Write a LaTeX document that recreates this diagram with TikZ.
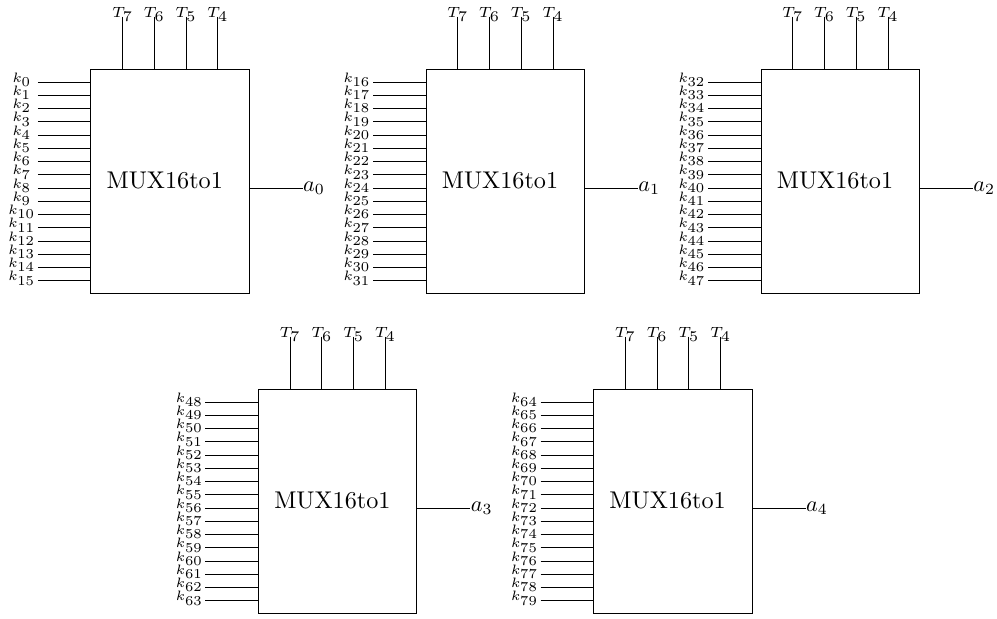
\documentclass[tikz,border=0pt]{standalone}
\usepackage{amsmath}
\usetikzlibrary{positioning}
\tikzset{
    muxbox/.style={draw, rectangle, minimum width=158.5*0.405pt, minimum height=224.5*0.405pt, inner sep=0pt},
    keylabel/.style={font=\footnotesize, scale=0.92, inner sep=0pt},
    ctrllabel/.style={font=\footnotesize, inner sep=0pt},
    outlabel/.style={anchor=west, scale=0.9, inner sep=0pt}
}

\begin{document}
\begin{tikzpicture}[x=0.405pt, y=-0.405pt]
    \useasboundingbox (0,0) rectangle (997,619);
    % Blocks: left edge / top edge / output index / first key index
    \foreach \ox/\oy/\idx/\first in {90.8/69/0/0, 426/69/1/16, 761/69/2/32, 258.4/389/3/48, 593.6/389/4/64} {
        \node[muxbox] (m\idx) at (\ox+79.25, \oy+112.25) {};
        \node[scale=0.98] (title\idx) at (\ox+74, \oy+111) {MUX16to1};

        % Output
        \node[outlabel] (a\idx) at (\ox+212, \oy+119) {$a_{\idx}$};
        \draw (a\idx.west -| m\idx.east) -- (a\idx.west);

        % Control inputs
        \foreach \t/\dx in {7/31.8, 6/63.5, 5/95.2, 4/127} {
            \coordinate (top\idx\t) at (\ox+\dx, \oy-52.5);
            \node[ctrllabel] (T\idx\t) at (\ox+\dx, \oy-54.5) {$\scriptstyle T_{\scriptstyle \t}$};
            \draw (top\idx\t) -- (top\idx\t |- m\idx.north);
        }

        % Key inputs
        \foreach \n in {0,...,15} {
            \pgfmathtruncatemacro{\key}{\first+\n}
            \coordinate (start\idx\n) at (\ox-53, \oy+13+13.25*\n);
            \node[keylabel] (k\idx\n) at (\ox-69, \oy+10.5+13.25*\n) {$\scriptstyle k_{\scriptstyle \key}$};
            \draw (start\idx\n) -- (start\idx\n -| m\idx.west);
        }
    }
\end{tikzpicture}
\end{document}
